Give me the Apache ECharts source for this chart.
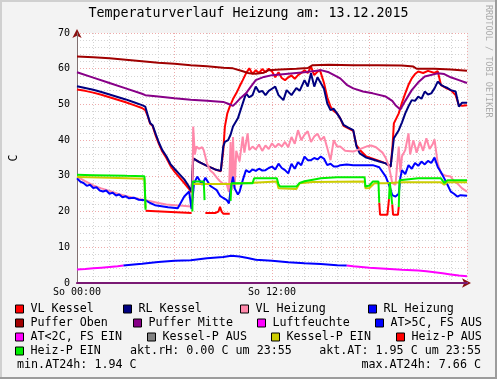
<!DOCTYPE html>
<html><head><meta charset="utf-8">
<script src="https://cdn.jsdelivr.net/npm/echarts@6.0.0/dist/echarts.min.js"></script>
<style>html,body{margin:0;padding:0;background:#f3f3f3}#c{width:497px;height:379px}</style>
</head><body><div id="c"></div>
<script>
// ---- data: [hour, °C] ----
const vlKessel = [
[0,54.2],[0.5,53.8],[1,53.3],[1.5,52.7],[2,52.0],[2.5,51.3],[3,50.6],[3.5,49.8],[4,49.0],[4.2,48.4],
[4.35,46.8],[4.5,44.6],[4.65,44.0],[4.85,41.2],[5.05,38.8],[5.25,36.8],[5.5,35.0],[5.75,32.8],[6.0,31.2],[6.3,29.6],[6.6,28.0],[6.85,26.6],[7.05,25.4],
[7.15,34.9],[7.5,33.9],[8.0,32.8],[8.5,31.8],[8.85,31.3],
[9.0,37.0],[9.1,43.8],[9.25,47.5],[9.4,49.4],[9.6,51.5],[9.8,53.1],[10.0,55.0],[10.2,56.8],[10.4,58.7],[10.6,60.1],[10.8,58.5],[11.0,59.6],[11.2,58.8],[11.4,59.9],[11.6,59.0],[11.8,60.0],[12.0,59.2],[12.2,57.6],[12.4,59.0],[12.6,57.4],[12.8,56.8],[13.0,57.6],[13.2,58.1],[13.4,57.2],[13.6,58.2],[13.8,58.8],[14.0,59.6],[14.2,58.8],[14.4,60.6],[14.6,58.2],[14.8,59.2],[14.95,59.6],
[15.2,56.0],[15.4,52.0],[15.6,49.4],[15.8,48.2],[16.0,47.5],[16.2,46.1],[16.4,44.0],[16.7,43.3],[17.0,42.6],[17.2,38.5],[17.5,36.8],[17.8,35.4],[18.2,34.8],[18.6,34.2],[19.0,33.5],[19.3,32.6],
[19.42,38.5],[19.5,44.7],[19.8,47.5],[20.0,50.5],[20.2,53.1],[20.4,55.5],[20.6,57.3],[20.8,58.5],[21.0,59.2],[21.3,58.8],[21.6,59.4],[22.0,58.8],[22.2,59.3],[22.4,55.4],[22.7,54.6],[23.0,54.0],[23.3,52.6],[23.5,49.8],[23.7,49.6],[24,49.8]
];
const rlKessel = [
[0,55.1],[0.5,54.6],[1,54.1],[1.5,53.5],[2,52.8],[2.5,52.1],[3,51.4],[3.5,50.6],[4,49.8],[4.2,49.4],
[4.35,47.0],[4.5,44.8],[4.65,44.2],[4.85,41.6],[5.05,39.2],[5.25,37.2],[5.5,35.5],[5.75,33.3],[6.0,32.0],[6.3,30.5],[6.6,29.0],[6.85,27.3],[7.05,25.6],
[7.15,34.9],[7.5,33.9],[8.0,32.8],[8.5,31.8],[8.85,31.4],
[9.0,38.2],[9.1,39.5],[9.3,40.0],[9.45,41.5],[9.6,43.8],[9.9,46.1],[10.2,50.3],[10.4,53.1],[10.6,52.0],[10.8,52.6],[11.0,55.0],[11.2,53.5],[11.4,53.8],[11.6,52.6],[11.8,53.8],[12.0,54.4],[12.2,55.0],[12.4,52.6],[12.7,51.2],[12.9,54.0],[13.2,52.6],[13.5,54.6],[13.7,53.8],[14.0,56.8],[14.2,55.0],[14.4,58.7],[14.6,55.0],[14.8,57.6],[15.0,56.0],[15.2,54.4],
[15.4,50.3],[15.6,48.4],[15.8,48.8],[16.0,47.5],[16.2,46.1],[16.4,44.3],[16.7,43.5],[17.0,42.8],[17.2,38.2],[17.4,36.3],[17.8,35.1],[18.2,34.6],[18.6,34.0],[19.0,33.5],[19.3,32.6],
[19.5,40.5],[19.8,42.8],[20.0,45.0],[20.2,47.5],[20.4,49.5],[20.6,51.2],[20.8,51.0],[21.0,52.2],[21.2,51.6],[21.4,53.6],[21.6,52.8],[21.8,53.1],[22.0,54.5],[22.2,56.4],[22.4,55.5],[22.6,55.0],[22.8,54.6],[23.0,54.0],[23.3,53.6],[23.5,49.4],[23.7,50.5],[24,50.5]
];
const vlHeizung = [
[0,29.8],[0.5,28.5],[1,27.3],[1.5,26.5],[2,25.8],[2.5,25.0],[3,24.4],[3.5,23.8],[4,23.4],[4.2,23.2],[4.6,22.8],[5,22.4],[5.5,22.0],[6,21.8],[6.5,21.6],[7.0,21.4],
[7.1,25.0],[7.15,43.8],[7.25,36.0],[7.35,38.2],[7.5,37.6],[7.7,38.0],[7.8,37.2],[8.0,33.5],[8.2,31.5],[8.4,30.7],[8.6,29.5],[8.8,28.5],[9.0,27.8],[9.2,27.9],[9.35,25.5],[9.45,39.5],[9.52,26.0],[9.6,40.9],[9.7,26.5],[9.8,37.0],[9.9,35.5],[10.0,34.0],[10.2,41.0],[10.3,36.5],[10.5,41.9],[10.6,37.2],[10.8,38.2],[11.0,37.4],[11.2,38.8],[11.4,37.0],[11.6,38.5],[11.8,37.5],[12.0,39.1],[12.2,38.0],[12.4,39.0],[12.6,38.2],[12.8,39.5],[13.0,38.0],[13.2,40.9],[13.4,39.0],[13.6,42.8],[13.8,40.0],[14.0,41.5],[14.2,42.5],[14.4,39.5],[14.6,41.0],[14.8,41.8],[15.0,40.0],[15.2,41.0],[15.4,37.8],[15.6,34.4],[15.8,40.0],[16.0,38.2],[16.2,38.2],[16.5,37.0],[17.0,36.8],[17.4,37.5],[17.8,38.2],[18.1,38.5],[18.4,38.0],[18.8,36.5],[19.0,35.0],[19.2,32.6],[19.4,28.0],[19.6,27.5],[19.8,38.2],[19.9,31.0],[20.0,35.5],[20.2,37.2],[20.4,41.9],[20.5,36.0],[20.7,40.0],[20.9,36.5],[21.1,39.5],[21.3,37.0],[21.5,40.5],[21.7,37.5],[21.9,39.0],[22.0,40.2],[22.2,33.5],[22.4,30.7],[22.7,30.0],[23.0,29.8],[23.2,28.5],[23.4,27.9],[23.7,26.5],[24,25.6]
];
const rlHeizung = [
[0,29.3],[0.2,28.4],[0.4,28.0],[0.6,27.2],[0.8,27.5],[1.0,26.6],[1.2,26.8],[1.4,25.9],[1.6,25.6],[1.8,25.9],[2.0,25.0],[2.2,25.3],[2.4,24.5],[2.6,24.8],[2.8,24.0],[3.0,24.3],[3.2,23.7],[3.5,23.9],[3.8,23.3],[4.2,23.2],[4.5,22.4],[4.8,21.8],[5.2,21.5],[5.6,21.2],[6.2,20.9],[6.6,24.2],[6.9,25.6],[7.05,20.7],[7.2,27.9],[7.4,29.8],[7.7,27.5],[7.9,29.5],[8.2,27.2],[8.4,26.6],[8.6,26.0],[8.8,24.4],[9.0,23.8],[9.2,23.3],[9.35,22.3],[9.45,26.0],[9.6,29.8],[9.7,26.5],[9.9,24.8],[10.0,25.5],[10.2,28.8],[10.4,31.6],[10.6,31.0],[10.8,31.8],[11.0,31.4],[11.2,32.0],[11.4,31.5],[11.6,31.6],[11.8,32.2],[12.0,32.6],[12.2,31.8],[12.4,33.4],[12.6,32.2],[12.8,31.6],[13.0,30.7],[13.2,33.4],[13.4,32.0],[13.6,33.8],[13.8,33.0],[14.0,35.4],[14.2,34.4],[14.4,34.4],[14.6,35.0],[14.8,34.6],[15.0,35.4],[15.2,34.8],[15.4,33.0],[15.6,33.4],[15.8,32.6],[16.0,32.6],[16.2,33.0],[16.6,33.2],[17.0,33.0],[17.5,33.0],[18.2,33.0],[18.6,32.4],[19.0,29.8],[19.2,27.5],[19.4,24.6],[19.6,24.2],[19.8,25.0],[19.9,29.5],[20.0,31.6],[20.2,30.5],[20.4,33.0],[20.6,32.0],[20.8,33.6],[21.0,32.8],[21.2,34.0],[21.4,33.2],[21.6,34.2],[21.8,33.6],[22.0,35.1],[22.2,32.5],[22.4,31.0],[22.6,29.3],[22.8,27.5],[23.0,25.6],[23.2,25.0],[23.4,24.2],[23.6,24.6],[24,24.4]
];
const pufferOben = [
[0,63.4],[1,63.2],[2,62.9],[3,62.5],[4,62.1],[5,61.7],[6,61.4],[7,61.0],[8,60.7],[9,60.3],[9.6,60.1],[10.2,59.3],[10.6,58.7],[11,58.6],[11.5,58.9],[11.8,59.6],[12.5,59.8],[13.5,60.0],[14.2,60.2],[14.5,61.0],[15.5,61.1],[17,61.0],[18.5,61.0],[20,60.9],[20.7,60.6],[20.9,60.0],[22,60.0],[23,59.8],[24,59.4]
];
const pufferMitte = [
[0,59.0],[1,57.5],[2,56.0],[3,54.5],[4,53.0],[4.2,52.6],[5,52.2],[6,51.7],[7,51.3],[8,51.0],[9,50.7],[9.3,50.2],[9.6,49.6],[9.8,50.5],[10.0,51.5],[10.4,53.1],[10.7,55.0],[11.0,56.8],[11.5,57.7],[12.0,58.2],[13.0,58.6],[14.0,59.0],[15.0,59.6],[15.5,59.0],[16.2,57.3],[16.6,55.5],[17.0,54.5],[17.6,53.6],[18.2,53.1],[19.0,52.2],[19.4,51.0],[19.6,49.8],[19.9,48.6],[20.2,51.0],[20.6,54.0],[21.0,56.2],[21.4,57.8],[22.2,58.7],[22.6,58.5],[23.0,57.6],[23.5,56.8],[24,56.0]
];
const luftfeuchte = [];
const atWarm = [
[2.85,4.9],[3.5,5.2],[4,5.4],[5,5.9],[6,6.2],[7,6.4],[8,6.9],[9,7.3],[9.5,7.6],[10,7.4],[10.5,7.0],[11,6.5],[12,6.2],[13,5.8],[14,5.5],[15,5.3],[16,5.0],[16.6,4.9]
];
const atCold = [
[0,3.8],[0.5,3.9],[1,4.1],[1.5,4.3],[2,4.5],[2.5,4.7],[2.85,4.9],[2.9,null],
[16.6,4.9],[17,4.7],[18,4.3],[19,4.0],[20,3.7],[21,3.5],[21.5,3.3],[22,3.0],[22.5,2.7],[23,2.4],[23.5,2.1],[24,1.9]
];
const kesselPAus = [];
const kesselPEin = [
[0,29.7],[2,29.5],[4.15,29.2],[4.22,21.0],[4.3,null],
[7.1,27.7],[9.4,27.7],[9.5,28.0],[12.3,28.4],[12.4,26.5],[13.5,26.3],[13.7,27.9],[14.5,28.3],[17.7,28.4],[17.75,26.5],[18.0,26.6],[18.3,27.9],[19.0,27.9],[20,28.2],[22.4,28.2],[22.6,27.5],[22.8,28.2],[24,28.2]
];
const heizPAus = [
[4.22,20.2],[4.3,19.7],[7.05,19.6],[7.1,null],
[7.9,19.6],[8.5,19.6],[8.7,20.0],[8.8,21.3],[8.9,20.0],[9.0,19.4],[9.4,19.4],[9.45,null],
[18.6,22.5],[18.65,19.1],[19.1,19.1],[19.2,23.5],[19.25,null],
[19.4,22.0],[19.45,19.1],[19.75,19.1],[19.8,21.3],[19.85,null]
];
const heizPEin = [
[0,30.3],[1,30.2],[2,30.1],[3,30.0],[4.15,29.9],[4.2,29.8],[4.22,20.5],[4.3,null],
[7.1,20.0],[7.12,28.4],[7.8,28.4],[7.85,23.2],[7.9,null],
[9.45,23.0],[9.5,27.9],[10.8,27.9],[10.9,29.3],[12.3,29.3],[12.4,27.6],[12.5,27.0],[13.5,27.0],[13.7,28.0],[14.0,28.5],[14.6,29.0],[15.0,29.3],[16,29.6],[17.7,29.6],[17.75,27.0],[18.0,27.3],[18.2,28.4],[18.55,28.4],[18.6,22.5],[18.65,null],
[19.2,23.5],[19.25,28.2],[19.35,28.2],[19.4,22.0],[19.45,null],
[19.8,21.3],[19.85,28.8],[21,29.3],[22.4,29.3],[22.6,28.0],[22.8,28.8],[24,28.8]
];
const xLabelHours = [0, 12];
const xLabelTexts = ['So 00:00', 'So 12:00'];
const infoTexts = ['akt.rH: 0.00 C um 23:55', 'akt.AT: 1.95 C um 23:55', 'min.AT24h: 1.94 C', 'max.AT24h: 7.66 C'];

// ---- styling / layout ----
const MONO = '"DejaVu Sans Mono", monospace';
const seriesDefs = [
  ['VL Kessel', vlKessel, '#ff0000'],
  ['RL Kessel', rlKessel, '#000080'],
  ['VL Heizung', vlHeizung, '#ff88aa'],
  ['RL Heizung', rlHeizung, '#0000ff'],
  ['Puffer Oben', pufferOben, '#a00000'],
  ['Puffer Mitte', pufferMitte, '#880088'],
  ['Luftfeuchte', luftfeuchte, '#ff00ff'],
  ['AT>5C, FS AUS', atWarm, '#0000ff'],
  ['AT<2C, FS EIN', atCold, '#ff00ff'],
  ['Kessel-P AUS', kesselPAus, '#808080'],
  ['Kessel-P EIN', kesselPEin, '#cccc00'],
  ['Heiz-P AUS', heizPAus, '#ff0000'],
  ['Heiz-P EIN', heizPEin, '#00ee00']
];
const legendPos = {
  'VL Kessel':[15,303], 'RL Kessel':[123,303], 'VL Heizung':[240,303], 'RL Heizung':[368,303],
  'Puffer Oben':[15,317], 'Puffer Mitte':[133,317], 'Luftfeuchte':[257,317], 'AT>5C, FS AUS':[375,317],
  'AT<2C, FS EIN':[15,331], 'Kessel-P AUS':[147,331], 'Kessel-P EIN':[271,331], 'Heiz-P AUS':[396,331],
  'Heiz-P EIN':[15,345]
};

const minorLine = {show:true, lineStyle:{color:'#d4d4d4', type:[1,2], width:1}};
const majorLine = {show:true, lineStyle:{color:'#eeaaaa', type:[1,2], width:1}};

const chart = echarts.init(document.getElementById('c'), null, {renderer:'canvas'});
chart.setOption({
  animation:false,
  backgroundColor:'#f3f3f3',
  title:{text:'Temperaturverlauf Heizung am: 13.12.2015', left:'center', top:5, padding:0,
    textStyle:{fontFamily:MONO, fontSize:13.3, fontWeight:'normal', color:'#000', lineHeight:17}},
  grid:{left:67, top:33, width:400, height:250, show:true, backgroundColor:'#ffffff', borderWidth:0},
  xAxis:[
    {type:'value', min:0, max:24, interval:1,
     axisLine:{show:true, lineStyle:{color:'#8b1010', width:1}, symbol:['none','arrow'], symbolSize:[7,9], symbolOffset:[0,4]},
     axisTick:{show:false}, axisLabel:{show:false}, splitLine:minorLine},
    {type:'value', min:0, max:24, interval:6, position:'bottom', z:3,
     axisLine:{show:true, lineStyle:{color:'#7a1a74', width:2}},
     axisTick:{show:false},
     axisLabel:{show:true, margin:4, fontFamily:MONO, fontSize:10, color:'#000',
       formatter:(v)=>{const i = xLabelHours.indexOf(v); return i>=0 ? xLabelTexts[i] : '';}},
     splitLine:majorLine}
  ],
  yAxis:[
    {type:'value', min:0, max:70, interval:2,
     axisLine:{show:true, lineStyle:{color:'#8b1010', width:1}, symbol:['none','arrow'], symbolSize:[7,9], symbolOffset:[0,4]},
     axisTick:{show:false}, axisLabel:{show:false}, splitLine:minorLine,
     name:'C', nameLocation:'middle', nameGap:57, nameRotate:90,
     nameTextStyle:{fontFamily:MONO, fontSize:11.7, color:'#000'}},
    {type:'value', min:0, max:70, interval:10, position:'left', z:3,
     axisLine:{show:true, lineStyle:{color:'#807070', width:1}},
     axisTick:{show:false},
     axisLabel:{show:true, margin:7, fontFamily:MONO, fontSize:10, color:'#000'},
     splitLine:majorLine}
  ],
  legend: seriesDefs.map(d => ({
    data:[d[0]], left:legendPos[d[0]][0], top:legendPos[d[0]][1], padding:0,
    icon:'rect', itemWidth:8, itemHeight:8, selectedMode:false,
    itemStyle:{borderColor:'#000', borderWidth:1},
    textStyle:{fontFamily:MONO, fontSize:11.7, color:'#000', lineHeight:12, padding:[0,0,0,2]}
  })),
  series: seriesDefs.map(d => ({
    name:d[0], type:'line', data:d[1], xAxisIndex:0, yAxisIndex:0,
    showSymbol:false, symbol:'none', connectNulls:false,
    lineStyle:{color:d[2], width:2}, itemStyle:{color:d[2]}
  })),
  graphic:[
    {type:'text', x:130, y:351, style:{text:infoTexts[0], font:'11.7px '+MONO, fill:'#000', textAlign:'left', textVerticalAlign:'middle', align:'left', verticalAlign:'middle'}},
    {type:'text', x:481, y:351, style:{text:infoTexts[1], font:'11.7px '+MONO, fill:'#000', textAlign:'right', textVerticalAlign:'middle', align:'right', verticalAlign:'middle'}},
    {type:'text', x:17, y:365, style:{text:infoTexts[2], font:'11.7px '+MONO, fill:'#000', textAlign:'left', textVerticalAlign:'middle', align:'left', verticalAlign:'middle'}},
    {type:'text', x:481, y:365, style:{text:infoTexts[3], font:'11.7px '+MONO, fill:'#000', textAlign:'right', textVerticalAlign:'middle', align:'right', verticalAlign:'middle'}},
    {type:'text', x:488, y:5, rotation:-Math.PI/2, style:{text:'RRDTOOL / TOBI OETIKER', font:'8.5px '+MONO, fill:'#ababab', textAlign:'left', textVerticalAlign:'middle', align:'left', verticalAlign:'middle'}},
    {type:'rect', shape:{x:0, y:0, width:497, height:2}, style:{fill:'#d0d0d0'}, z:100},
    {type:'rect', shape:{x:0, y:0, width:2, height:379}, style:{fill:'#d0d0d0'}, z:100},
    {type:'rect', shape:{x:495, y:0, width:2, height:379}, style:{fill:'#9c9c9c'}, z:101},
    {type:'rect', shape:{x:0, y:377, width:497, height:2}, style:{fill:'#9c9c9c'}, z:101}
  ]
});
</script></body></html>
